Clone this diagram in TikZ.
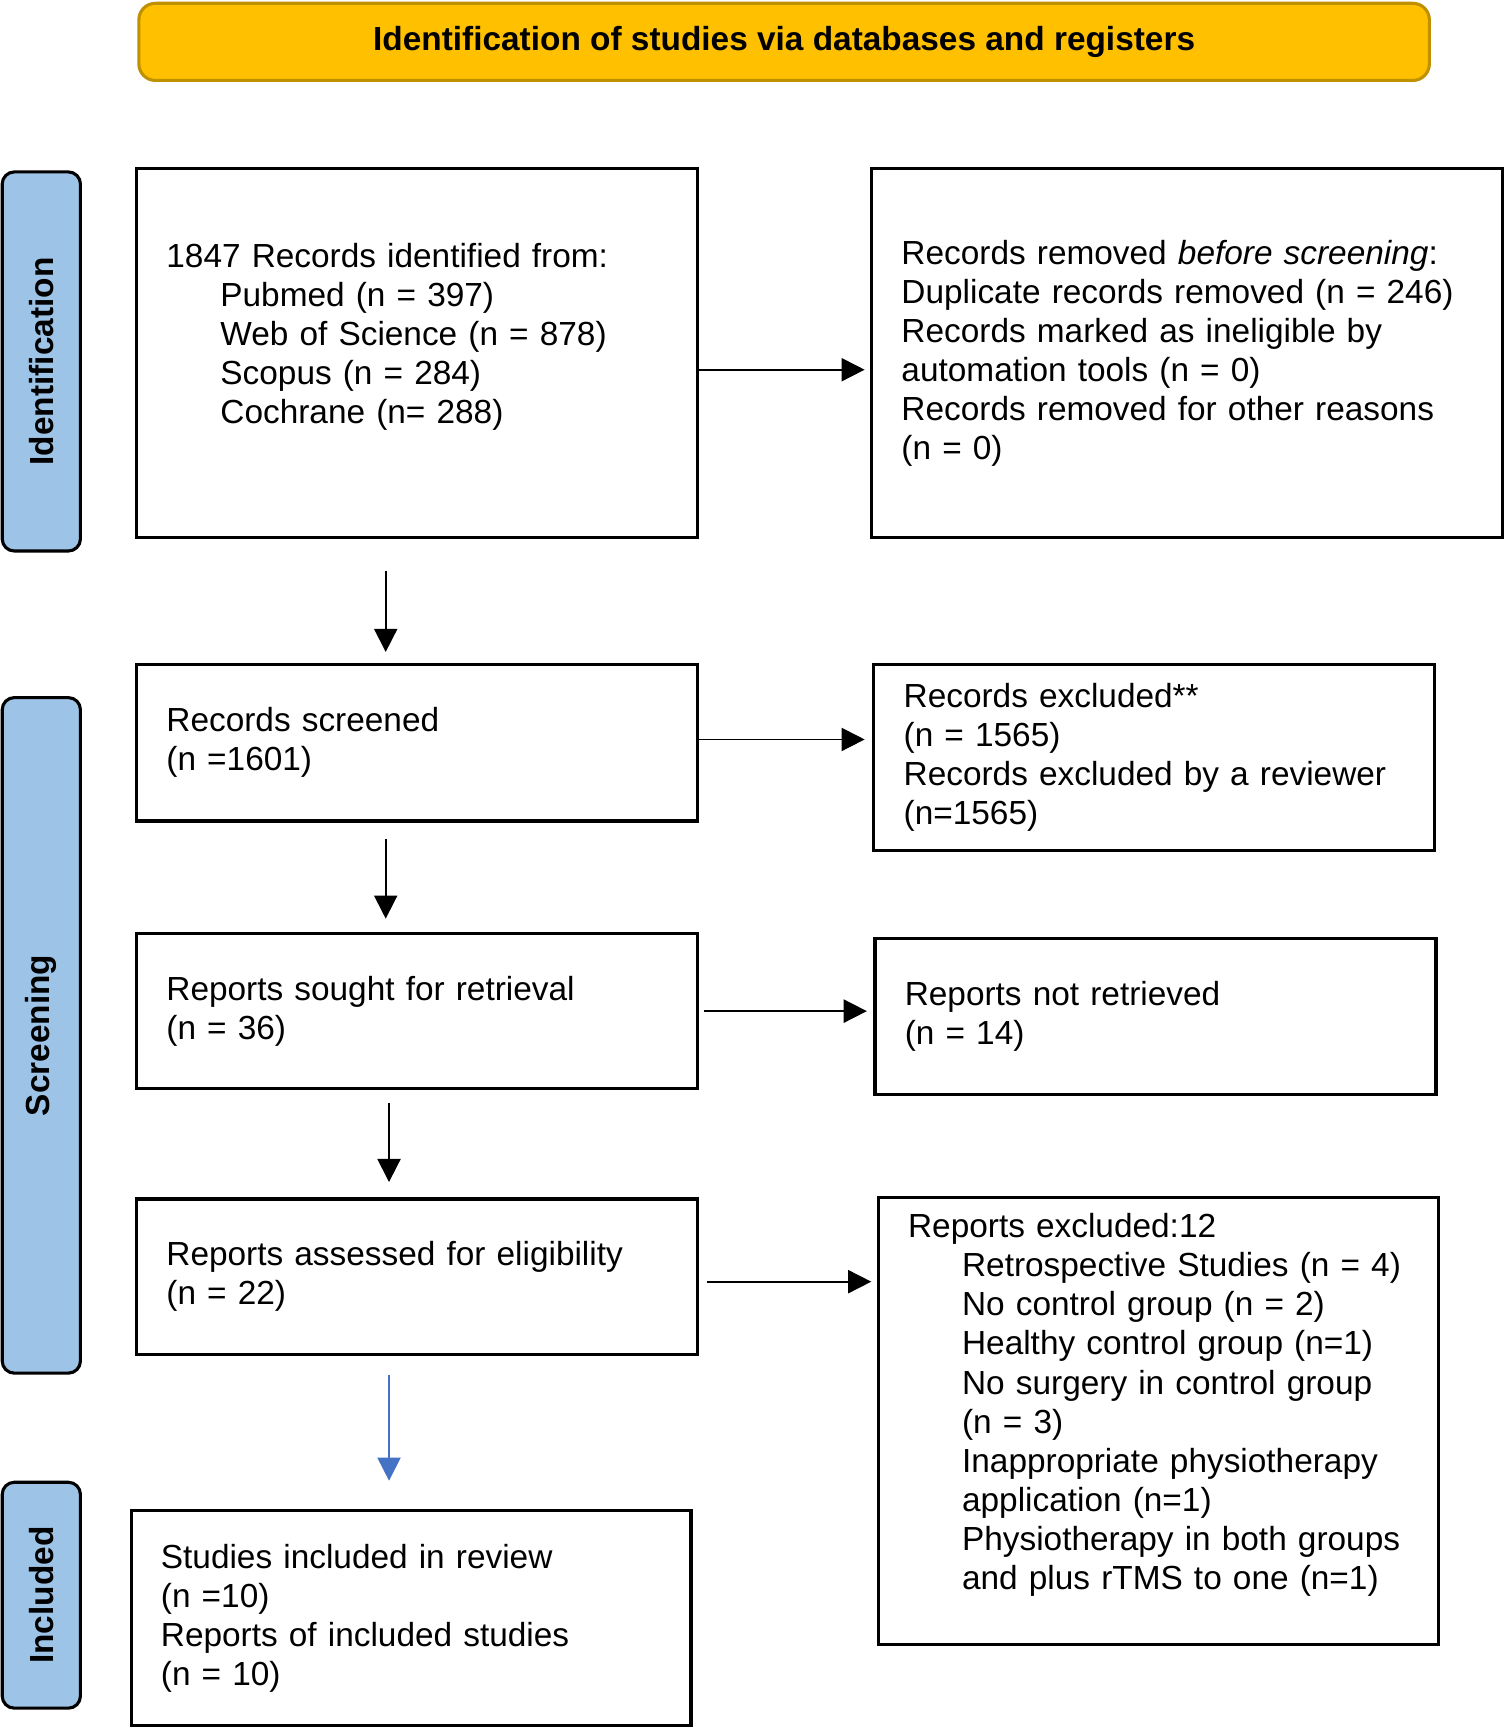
\documentclass[tikz,border=0pt]{standalone}
\usepackage{fontspec}
\setmainfont{Liberation Sans}
\usetikzlibrary{arrows.meta}
\definecolor{bannerfill}{HTML}{FFC000}
\definecolor{bannerline}{HTML}{BF9000}
\definecolor{phasefill}{HTML}{9DC3E6}
\definecolor{flowblue}{HTML}{4472C4}
\newcommand{\ind}{\hspace*{4.9mm}}
\tikzset{
  every node/.style={font=\fontsize{8.62}{10.1}\selectfont},
  box/.style={draw, line width=0.8pt, align=left, inner xsep=2.7mm, inner ysep=0pt},
  phase/.style={draw, line width=0.8pt, fill=phasefill, rounded corners=1.1mm, rotate=90,
    minimum height=7.1mm, font=\fontsize{8.62}{10.1}\selectfont\bfseries},
  banner/.style={draw=bannerline, fill=bannerfill, line width=0.8pt, rounded corners=1.5mm,
    font=\fontsize{8.62}{10.1}\selectfont\bfseries},
  flow/.style={-{Triangle[length=2.1mm,width=2.1mm]}, line width=0.45pt}
}

\begin{document}
\begin{tikzpicture}
\useasboundingbox (0,0) rectangle (13.65,-15.68);
\node[banner, minimum width=11.71cm, minimum height=0.70cm] (title) at (7.115,-0.38)
  {Identification of studies via databases and registers}; %top banner
\node[phase, minimum width=3.44cm] (pident) at (0.375,-3.28) {Identification}; %phases
\node[phase, minimum width=6.13cm] (pscreen) at (0.375,-9.395) {Screening};
\node[phase, minimum width=2.05cm] (pincl) at (0.375,-14.475) {Included};
\node[box, text width=4.55cm, minimum height=3.35cm] (ident) at (3.785,-3.205)
  {1847 Records identified from:\\ \ind Pubmed (n = 397)\\ \ind Web of Science (n = 878)\\
   \ind Scopus (n = 284)\\ \ind Cochrane (n= 288)\\ \mbox{}}; %left column
\node[box, text width=4.55cm, minimum height=1.42cm] (screened) at (3.785,-6.74)
  {Records screened\\ (n =1601)};
\node[box, text width=4.55cm, minimum height=1.41cm] (sought) at (3.785,-9.175)
  {Reports sought for retrieval\\ (n = 36)};
\node[box, text width=4.55cm, minimum height=1.41cm] (assessed) at (3.785,-11.585)
  {Reports assessed for eligibility\\ (n = 22)};
\node[box, text width=4.54cm, minimum height=1.95cm] (included) at (3.73,-14.685)
  {Studies included in review\\ (n =10)\\ Reports of included studies\\ (n = 10)};
\node[box, text width=5.18cm, minimum height=3.35cm] (removed) at (10.77,-3.205)
  {Records removed \textit{before screening}:\\ Duplicate records removed (n = 246)\\
   Records marked as ineligible by\\ automation tools (n = 0)\\
   Records removed for other reasons\\ (n = 0)}; %right column
\node[box, text width=4.55cm, minimum height=1.69cm] (excluded) at (10.475,-6.875)
  {Records excluded**\\ (n = 1565)\\ Records excluded by a reviewer\\ (n=1565)};
\node[box, text width=4.55cm, minimum height=1.41cm] (notretr) at (10.485,-9.225)
  {Reports not retrieved\\ (n = 14)};
\node[box, text width=4.54cm, minimum height=4.05cm] (repexcl) at (10.51,-12.895)
  {Reports excluded:12\\ \ind Retrospective Studies (n = 4)\\ \ind No control group (n = 2)\\
   \ind Healthy control group (n=1)\\ \ind No surgery in control group\\ \ind (n = 3)\\
   \ind Inappropriate physiotherapy\\ \ind application (n=1)\\
   \ind Physiotherapy in both groups\\ \ind and plus rTMS to one (n=1)\\ \mbox{}};
\draw[flow, shorten >=0.5mm] ([yshift=-1.5mm]ident.east) -- ([yshift=-1.5mm]removed.west); %side arrows
\draw[flow, shorten >=0.7mm] ([yshift=0.3mm]screened.east) -- ([yshift=0.3mm]screened.east -| excluded.west);
\draw[flow, shorten <=0.4mm, shorten >=0.6mm] (sought.east) -- (sought.east -| notretr.west);
\draw[flow, shorten <=0.7mm, shorten >=0.5mm] ([yshift=-0.45mm]assessed.east)
  -- ([yshift=-0.45mm]assessed.east -| repexcl.west);
\draw[flow, shorten <=2.9mm, shorten >=1mm] ([xshift=-2.85mm]ident.south)
  -- ([xshift=-2.85mm]screened.north); %down arrows
\draw[flow, shorten <=1.5mm, shorten >=1.2mm] ([xshift=-2.85mm]screened.south)
  -- ([xshift=-2.85mm]sought.north);
\draw[flow, shorten <=1.1mm, shorten >=1.4mm] ([xshift=-2.55mm]sought.south)
  -- ([xshift=-2.55mm]assessed.north);
\draw[flow, draw=flowblue, fill=flowblue, shorten <=1.7mm, shorten >=2.6mm]
  ([xshift=-2.55mm]assessed.south) -- ([xshift=-2.55mm]assessed.south |- included.north);
\end{tikzpicture}
\end{document}
